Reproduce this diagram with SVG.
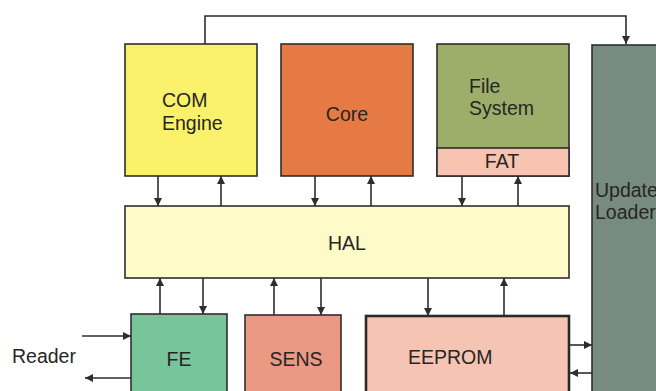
<svg xmlns="http://www.w3.org/2000/svg" width="656" height="391" viewBox="0 0 656 391">
  <style>
    .box { stroke: #2e2e2e; stroke-width: 1.6; }
    .lbl { font-family: "Liberation Sans", Arial, sans-serif; font-size: 19.5px; fill: #262626; }
    .wire { fill: none; stroke: #2e2e2e; stroke-width: 1.6; }
  </style>
  <defs>
    <marker id="ah" viewBox="0 0 10 10" refX="10" refY="5" markerWidth="8" markerHeight="8" markerUnits="userSpaceOnUse" orient="auto">
      <path d="M0,0 L10,5 L0,10 z" fill="#2e2e2e"/>
    </marker>
  </defs>
  <rect width="656" height="391" fill="#ffffff"/>

  <g id="update-loader">
    <rect class="box" x="592" y="45" width="70" height="360" fill="#788b80"/>
    <text class="lbl" x="595" y="197">Update</text>
    <text class="lbl" x="595" y="219">Loader</text>
  </g>

  <g id="com-engine">
    <rect class="box" x="125" y="44" width="132" height="132" fill="#faf16a"/>
    <text class="lbl" x="162" y="107">COM</text>
    <text class="lbl" x="162" y="130">Engine</text>
  </g>

  <g id="core">
    <rect class="box" x="281" y="44" width="132" height="132" fill="#e57a44"/>
    <text class="lbl" x="347" y="121" text-anchor="middle">Core</text>
  </g>

  <g id="file-system">
    <rect class="box" x="437" y="44" width="132" height="132" fill="#9cae6a"/>
    <rect class="box" x="437" y="148" width="132" height="28" fill="#f6c4b0"/>
    <text class="lbl" x="469" y="93">File</text>
    <text class="lbl" x="469" y="115">System</text>
    <text class="lbl" x="502" y="168" text-anchor="middle">FAT</text>
  </g>

  <g id="hal">
    <rect class="box" x="125" y="206" width="444" height="72" fill="#fefbc8"/>
    <text class="lbl" x="347" y="250" text-anchor="middle">HAL</text>
  </g>

  <g id="fe">
    <rect class="box" x="131" y="314" width="96" height="90" fill="#78c59b"/>
    <text class="lbl" x="179" y="366" text-anchor="middle">FE</text>
  </g>

  <g id="sens">
    <rect class="box" x="245" y="315" width="96" height="90" fill="#ec9983"/>
    <text class="lbl" x="296" y="366" text-anchor="middle">SENS</text>
  </g>

  <g id="eeprom">
    <rect x="366" y="316" width="203" height="90" fill="#f6c4b3" stroke="#2a2a2a" stroke-width="2.6"/>
    <text class="lbl" x="408" y="364">EEPROM</text>
  </g>

  <g id="reader">
    <text class="lbl" x="12" y="363">Reader</text>
  </g>

  <g id="connectors">
    <!-- COM Engine to Update Loader -->
    <path class="wire" d="M205,44 V16 H626 V44" marker-end="url(#ah)"/>
    <!-- upper layer <-> HAL -->
    <path class="wire" d="M158,176 V206" marker-end="url(#ah)"/>
    <path class="wire" d="M221,206 V176" marker-end="url(#ah)"/>
    <path class="wire" d="M315,176 V206" marker-end="url(#ah)"/>
    <path class="wire" d="M371,206 V176" marker-end="url(#ah)"/>
    <path class="wire" d="M462,176 V206" marker-end="url(#ah)"/>
    <path class="wire" d="M518,206 V176" marker-end="url(#ah)"/>
    <!-- HAL <-> lower layer -->
    <path class="wire" d="M160,314 V278" marker-end="url(#ah)"/>
    <path class="wire" d="M203,278 V314" marker-end="url(#ah)"/>
    <path class="wire" d="M274,315 V278" marker-end="url(#ah)"/>
    <path class="wire" d="M321,278 V315" marker-end="url(#ah)"/>
    <path class="wire" d="M428,278 V316" marker-end="url(#ah)"/>
    <path class="wire" d="M504,316 V278" marker-end="url(#ah)"/>
    <!-- Reader <-> FE -->
    <path class="wire" d="M82,336 H131" marker-end="url(#ah)"/>
    <path class="wire" d="M131,378 H85" marker-end="url(#ah)"/>
    <!-- EEPROM <-> Update Loader -->
    <path class="wire" d="M570,345 H592" marker-end="url(#ah)"/>
    <path class="wire" d="M592,373 H570" marker-end="url(#ah)"/>
  </g>
</svg>
